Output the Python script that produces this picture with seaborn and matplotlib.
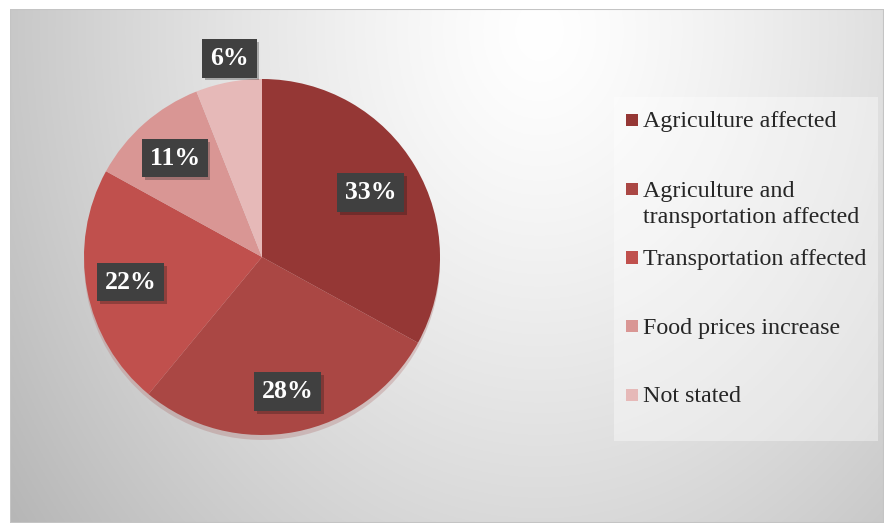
import numpy as np
import matplotlib
matplotlib.use("Agg")
import matplotlib.pyplot as plt
import matplotlib.patheffects as pe
from matplotlib.patches import Rectangle
import seaborn as sns

categories = ["Agriculture affected",
              "Agriculture and\ntransportation affected",
              "Transportation affected",
              "Food prices increase",
              "Not stated"]
values = [33, 28, 22, 11, 6]
colors = ["#953735", "#AA4744", "#C0504D", "#D99694", "#E6B9B8"]

sns.set_theme(style="white")
plt.rcParams["font.family"] = ["Liberation Serif", "DejaVu Serif"]

W, H = 890, 525
fig = plt.figure(figsize=(W / 100, H / 100), dpi=100)
fig.patch.set_facecolor("white")


def fx(x):
    return x / W


def fy(y):
    return 1 - y / H


# background gradient (chart area)
bg = fig.add_axes([fx(10), fy(523), fx(874), 514 / H])
bg.set_axis_off()
xs = np.linspace(10, 884, 400)
ys = np.linspace(9, 523, 300)
X, Y = np.meshgrid(xs, ys)
r = np.sqrt(((X - 540) / 520) ** 2 + ((Y - 30) / 650) ** 2)
v = 1 - 0.21 * np.clip(r, 0, 1.4) ** 1.3
img = np.dstack([v, v, v])
bg.imshow(img, extent=[0, 1, 0, 1], aspect="auto", origin="upper")
bg.set_xlim(0, 1)
bg.set_ylim(0, 1)
bg.add_patch(Rectangle((0, 0), 1, 1, fill=False, edgecolor="#c4c4c4",
                       linewidth=1.5, transform=bg.transAxes))

# legend box
leg_ax = fig.add_axes([fx(614), fy(441), fx(264), 344 / H])
leg_ax.set_axis_off()
leg_ax.add_patch(Rectangle((0, 0), 1, 1, facecolor="white", alpha=0.38,
                           edgecolor="none", transform=leg_ax.transAxes))

# pie
ax = fig.add_axes([fx(84), fy(435), fx(356), 356 / H])
wedges, _ = ax.pie(values, colors=colors, startangle=90, counterclock=False,
                   radius=1, wedgeprops=dict(linewidth=0),
                   shadow=dict(ox=0.0, oy=-0.02, shade=0.08, alpha=0.22))
ax.set_xlim(-1, 1)
ax.set_ylim(-1, 1)
ax.set_aspect("equal")
ax.set_axis_off()

label_dist = [0.71, 0.77, 0.75, 0.74, 1.13]
label_rot = [0, 0, 0, 0, -1.5]
for w, val, d, dr in zip(wedges, values, label_dist, label_rot):
    ang = np.deg2rad((w.theta1 + w.theta2) / 2 + dr)
    t = ax.text(d * np.cos(ang), d * np.sin(ang), f"{val}%",
                ha="center", va="center", color="white", fontsize=18.5,
                fontweight="bold", clip_on=False, zorder=5,
                bbox=dict(boxstyle="square,pad=0.3", facecolor="#404040",
                          edgecolor="none"))
    t.get_bbox_patch().set_path_effects(
        [pe.SimplePatchShadow(offset=(2, -2), alpha=0.28), pe.Normal()])

# legend entries
slot0, step, line_h = 120, 68.75, 27
for i, (cat, col) in enumerate(zip(categories, colors)):
    yc = slot0 + i * step
    n = cat.count("\n")
    fig.patches.append(Rectangle((fx(626), fy(yc + 6)), fx(12), 12 / H,
                                 facecolor=col, edgecolor="none",
                                 transform=fig.transFigure, figure=fig))
    fig.text(fx(643), fy(yc + 7.5 + n * line_h), cat, ha="left",
             va="baseline", fontsize=17.3, color="#262626", linespacing=1.32)

fig.savefig("out.png", dpi=100)
